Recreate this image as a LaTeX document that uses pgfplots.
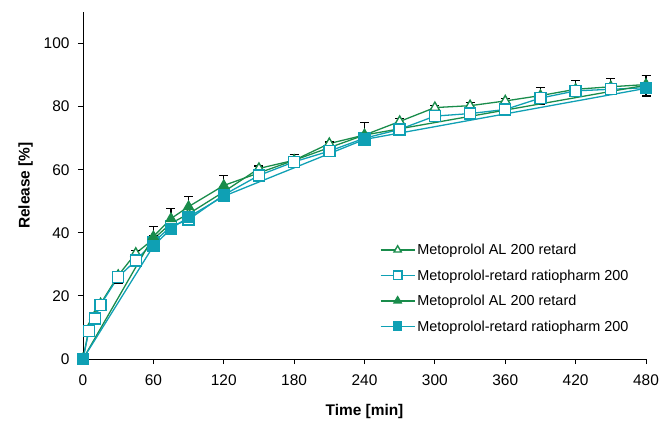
\documentclass[border=0pt]{standalone}
\usepackage{pgfplots}
\pgfplotsset{compat=1.18}
\usepackage{fontspec}
\setmainfont{Liberation Sans}
\definecolor{cgreen}{RGB}{25,140,75}
\definecolor{cteal}{RGB}{15,160,180}
\begin{document}
\begin{tikzpicture}
\path[use as bounding box] (0,0) rectangle (661bp,428bp);
\begin{axis}[
  at={(83bp,69bp)}, anchor=south west,
  scale only axis, width=563bp, height=347bp,
  xmin=0, xmax=480, ymin=0, ymax=110,
  axis lines=left, axis line style={-, line width=1pt},
  xtick={0,60,...,480}, ytick={0,20,...,100},
  tick align=outside, major tick length=5bp,
  tick style={line width=1pt, black},
  ticklabel style={font=\fontsize{15.5}{18}\selectfont},
  xticklabel style={yshift=-7bp},
  yticklabel style={xshift=-5bp},
  /pgf/number format/assume math mode=true,
  xlabel={\textbf{Time [min]}}, ylabel={\textbf{Release [\%]}},
  label style={font=\fontsize{15.5}{18}\selectfont},
  xlabel style={yshift=-12bp},
  ylabel style={yshift=4bp},
  clip=false,
  legend style={draw=none, fill=none, at={(0.527,0.337)}, anchor=north west,
    font=\fontsize{14.5}{17}\selectfont, row sep=9.5bp, inner sep=0pt,
    legend cell align=left},
  legend image code/.code={\draw[line width=1.5pt] (0bp,0.3bp) -- (34bp,0.3bp);
    \draw[mark size=4.2bp] plot coordinates {(17bp,0.3bp)};},
  every axis plot/.append style={line width=1.3pt},
  error bars/error bar style={black, line width=1.2pt},
  error bars/error mark options={rotate=90, mark size=4.5bp, line width=1.3pt, black},
]
% open triangle
\addplot+[cgreen, mark=triangle*, mark size=5.5bp, mark options={fill=white, draw=cgreen, line width=1.4pt, solid},
  error bars/.cd, y dir=plus, y explicit] table[x=t, y=v, y error=e] {
t v e
0 0 0
5 9.5 1
10 13.5 1
15 17.5 0.6
30 26.5 0.6
45 33.5 1
60 38 1
75 43 0.5
90 46 0.5
120 53 0.5
150 60.4 0.8
180 63 1.9
210 68.3 0.5
240 71 0.5
270 75.3 0.9
300 79.7 0.7
330 80.3 1
360 81.8 0.7
390 83.5 2.6
420 85.5 2.7
450 86.3 2.6
480 87 2.8
};
\addlegendentry{Metoprolol AL 200 retard}
% open square
\addplot+[cteal, mark=square*, mark size=5.5bp, mark options={fill=white, draw=cteal, line width=1.4pt, solid},
  error bars/.cd, y dir=minus, y explicit] table[x=t, y=v, y error=e] {
t v e
0 0 0
5 8.9 0
10 12.9 0
15 17.2 0
30 26 1.9
45 31.2 0.5
60 37 0.5
75 42 0.5
90 44.2 0.5
120 52 0.5
150 58.2 0.5
180 62.5 0.5
210 65.9 1.8
240 70 0.5
270 72.8 0.5
300 77 0.5
330 77.8 0.5
360 79.1 0.5
390 82.7 2
420 85 1.5
450 85.5 1.5
480 86 1.5
};
\addlegendentry{Metoprolol-retard ratiopharm 200}
% filled triangle
\addplot+[cgreen, mark=triangle*, mark size=5.5bp, mark options={fill=cgreen, draw=cgreen, solid},
  error bars/.cd, y dir=plus, y explicit] table[x=t, y=v, y error=e] {
t v e
0 0 0
60 38.8 3.2
75 44.5 3.2
90 48.3 3.3
120 55 3.2
240 71 4
480 86.8 3
};
\addlegendentry{Metoprolol AL 200 retard}
% filled square
\addplot+[cteal, mark=square*, mark size=5.5bp, mark options={fill=cteal, draw=cteal, solid},
  error bars/.cd, y dir=minus, y explicit] table[x=t, y=v, y error=e] {
t v e
0 0 0
60 35.8 1
75 41.3 0.5
90 45 0.5
120 51.6 0.5
240 69.6 1
480 85.8 2.4
};
\addlegendentry{Metoprolol-retard ratiopharm 200}
\end{axis}
\end{tikzpicture}
\end{document}
